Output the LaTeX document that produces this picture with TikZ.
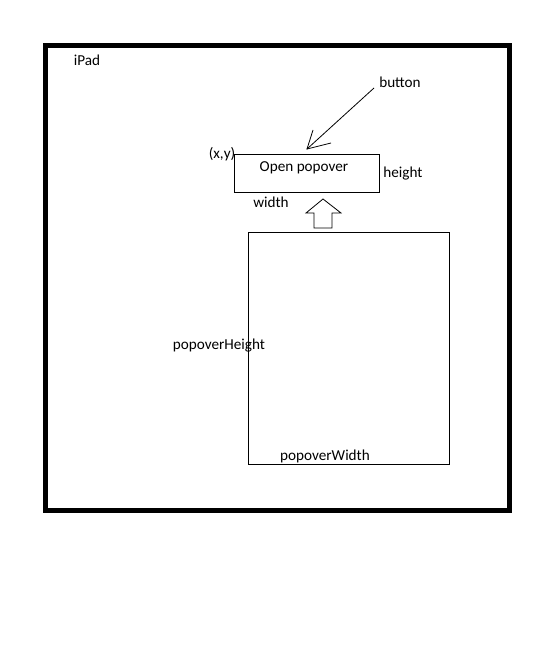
\documentclass[tikz,border=0pt]{standalone}
\usepackage{fontspec}
\setmainfont{Carlito}
\begin{document}
\begin{tikzpicture}[x=1pt,y=-1pt,
  lbl/.style={inner sep=0pt,font=\fontsize{15.2}{18}\selectfont},
  box/.style={draw=black,line width=1pt,inner sep=0pt}]
\useasboundingbox (0,0) rectangle (549,650);
\fill[white] (0,0) rectangle (549,650);
% iPad frame
\draw[line width=5pt] (45.5,45.5) rectangle (509.5,510.5);
\node[lbl] (ipad) at (87,60.5) {iPad};
% button
\node[box,minimum width=145pt,minimum height=38pt] (btn) at (306.5,173) {};
\node[lbl] (open) at (304,167.5) {Open popover};
\node[lbl] (xy) at (222,154.5) {(x,y)};
\node[lbl] (h) at (403,173.5) {height};
\node[lbl] (w) at (271,202.5) {width};
\node[lbl] (button) at (400,82.5) {button};
\coordinate (tail) at (374,88);
\coordinate (tip) at (307,149);
\draw[line width=0.8pt] (tail) -- (tip);
\draw[line width=0.8pt] (313,130) -- (tip) -- (331,143);
% popover
\node[box,minimum width=201pt,minimum height=232pt] (pop) at (348.5,348) {};
\node[lbl] (ph) at (219,345.5) {popoverHeight};
\node[lbl] (pw) at (325,456.5) {popoverWidth};
% hollow arrow
\draw[line width=0.8pt,line join=miter] (314,228) -- (314,213) -- (306,213) -- (323,199) -- (341,213) -- (332,213) -- (332,228) -- cycle;
\end{tikzpicture}
\end{document}
